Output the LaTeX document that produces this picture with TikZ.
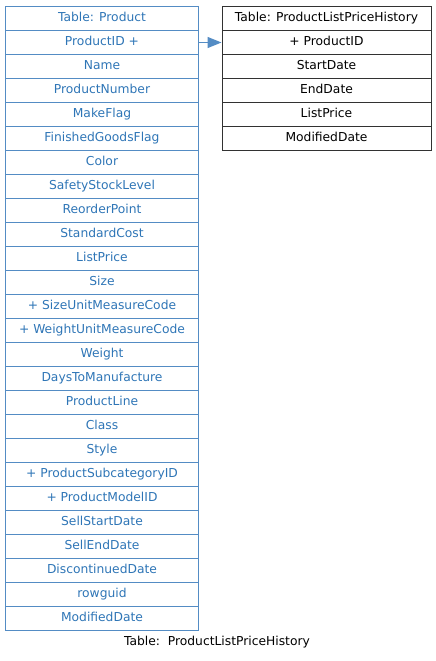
\documentclass[tikz,border=0pt]{standalone}
\usepackage{fontspec}
\setmainfont{DejaVu Sans}
\usetikzlibrary{arrows.meta,matrix,positioning}
\definecolor{tblblue}{RGB}{46,117,182}
\definecolor{tblline}{RGB}{84,140,196}
\definecolor{tbldark}{RGB}{50,50,50}
\tikzset{
    rowcell/.style={draw, minimum height=24pt, inner sep=0pt, text height=9pt, text depth=2.5pt, font=\fontsize{12.3}{14}\selectfont},
    blutable/.style={matrix of nodes, inner sep=0pt, row sep=-1pt, nodes={rowcell, draw=tblline, text=tblblue, minimum width=192pt}},
    blktable/.style={matrix of nodes, inner sep=0pt, row sep=-1pt, nodes={rowcell, draw=tbldark, text=black, minimum width=209pt}},
    linkarrow/.style={draw=tblline, line width=1.2pt, -{Triangle[length=14pt,width=11pt]}},
    caption/.style={font=\fontsize{12.3}{14}\selectfont, text=black}
}
\begin{document}
\begin{tikzpicture}[line width=1pt]
        \useasboundingbox (0pt,0pt) rectangle (436pt,-661pt);
        % Product table
        \matrix[blutable, anchor=north west] (product) at (5pt,-5.5pt) {
            Table: Product \\
            ProductID + \\
            Name \\
            ProductNumber \\
            MakeFlag \\
            FinishedGoodsFlag \\
            Color \\
            SafetyStockLevel \\
            ReorderPoint \\
            StandardCost \\
            ListPrice \\
            Size \\
            + SizeUnitMeasureCode \\
            + WeightUnitMeasureCode \\
            Weight \\
            DaysToManufacture \\
            ProductLine \\
            Class \\
            Style \\
            + ProductSubcategoryID \\
            + ProductModelID \\
            SellStartDate \\
            SellEndDate \\
            DiscontinuedDate \\
            rowguid \\
            ModifiedDate \\
        };

        % ProductListPriceHistory table
        \matrix[blktable, anchor=north west] (history) at (221pt,-5.5pt) {
            Table: ProductListPriceHistory \\
            + ProductID \\
            StartDate \\
            EndDate \\
            ListPrice \\
            ModifiedDate \\
        };

        \draw[linkarrow] (product-2-1.east) -- (history-2-1.west);

        \node[caption] (title) at (217pt,-642pt) {Table:\ \ ProductListPriceHistory};
    \end{tikzpicture}
\end{document}
